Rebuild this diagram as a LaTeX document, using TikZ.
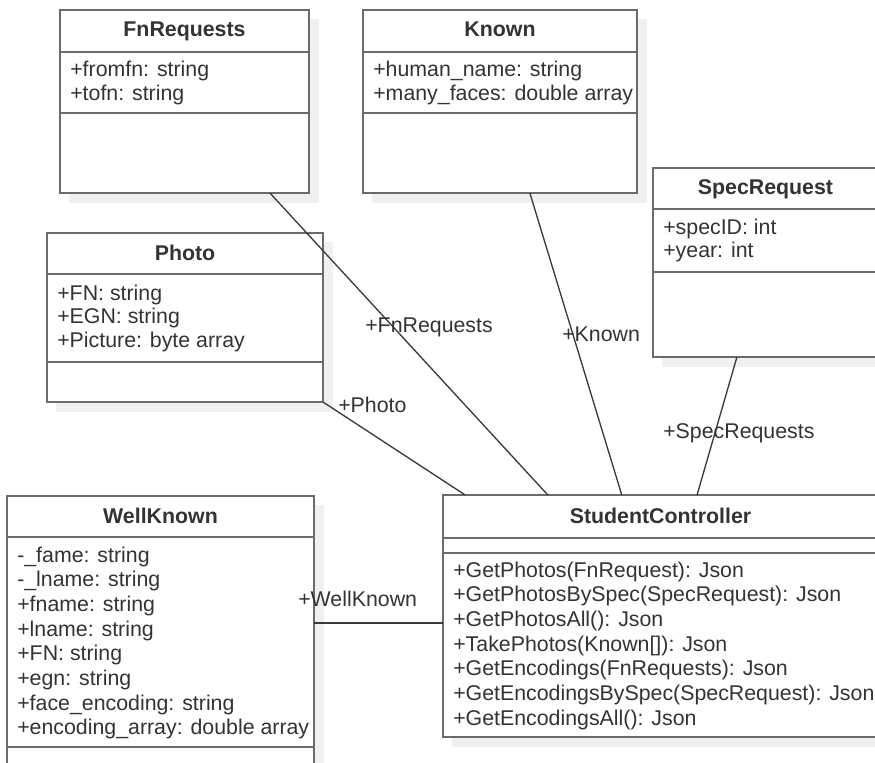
\documentclass[tikz,border=0pt]{standalone}
\usepackage{fontspec}
\setmainfont{Liberation Sans}
\usetikzlibrary{fit,calc}
\definecolor{boxline}{HTML}{6B6B6B}
\definecolor{inkgray}{HTML}{333333}
\definecolor{wireline}{HTML}{3A3A3A}
\definecolor{shadowgray}{HTML}{F0F0F0}
\begin{document}
\begin{tikzpicture}[x=0.75pt,y=-0.75pt,
  classbox/.style={draw=boxline, line width=1.6pt, fill=white, inner sep=0pt, outer sep=0pt, rectangle},
  boxshadow/.style={fill=shadowgray},
  divider/.style={draw=boxline, line width=1.6pt},
  classname/.style={font=\fontsize{16}{18}\selectfont\bfseries, text=inkgray, anchor=base, inner sep=0pt},
  member/.style={font=\fontsize{16}{18}\selectfont, text=inkgray, anchor=base west, inner sep=0pt},
  assoc/.style={draw=wireline, line width=1pt},
  rolelabel/.style={font=\fontsize{16}{18}\selectfont, text=inkgray, anchor=base west, inner sep=0pt},
]
\useasboundingbox (0,0) rectangle (875,763);
\clip (0,0) rectangle (875,763);

% drop shadows
\path[boxshadow] (69,19) rectangle (319,203);
\path[boxshadow] (372,19) rectangle (647,203);
\path[boxshadow] (662,177) rectangle (890,367);
\path[boxshadow] (56,242) rectangle (333,412);
\path[boxshadow] (16,505) rectangle (324,780);
\path[boxshadow] (452,504) rectangle (890,747);

% class frames
\node[classbox, fit={(60,10) (309,193)}] (fn) {};
\node[classbox, fit={(363,10) (637,193)}] (known) {};
\node[classbox, fit={(653,168) (878,357)}] (spec) {};
\node[classbox, fit={(47,233) (323,402)}] (photo) {};
\node[classbox, fit={(7,496) (314,770)}] (wk) {};
\node[classbox, fit={(443,495) (878,737)}] (sc) {};

% compartment dividers
\draw[divider] (60,52) -- (309,52) (60,113) -- (309,113);
\draw[divider] (363,52) -- (637,52) (363,113) -- (637,113);
\draw[divider] (653,209) -- (878,209) (653,272) -- (878,272);
\draw[divider] (47,274) -- (323,274) (47,362) -- (323,362);
\draw[divider] (7,537) -- (314,537) (7,747) -- (314,747);
\draw[divider] (443,538) -- (878,538) (443,553) -- (878,553);

% class names
\node[classname] (fn-name) at (184.5,37) {FnRequests};
\node[classname] (known-name) at (500,37) {Known};
\node[classname] (spec-name) at (765.5,195) {SpecRequest};
\node[classname] (photo-name) at (185,261) {Photo};
\node[classname] (wk-name) at (160.5,523) {WellKnown};
\node[classname] (sc-name) at (660.5,523) {StudentController};

% members
\foreach \m [count=\i from 0] in {{+fromfn: string},{+tofn: string}}
  \node[member] (fn-m\i) at (70,{77+24*\i}) {\m};
\foreach \m [count=\i from 0] in {{+human\_name: string},{+many\_faces: double array}}
  \node[member] (known-m\i) at (373,{77+24*\i}) {\m};
\foreach \m [count=\i from 0] in {{+specID: int},{+year: int}}
  \node[member] (spec-m\i) at (663,{234+23.5*\i}) {\m};
\foreach \m [count=\i from 0] in {{+FN: string},{+EGN: string},{+Picture: byte array}}
  \node[member] (photo-m\i) at (57,{300+23.5*\i}) {\m};
\foreach \m [count=\i from 0] in {{-\_fame: string},{-\_lname: string},{+fname: string},{+lname: string},{+FN: string},{+egn: string},{+face\_encoding: string},{+encoding\_array: double array}}
  \node[member] (wk-m\i) at (17,{562+24.7*\i}) {\m};
\foreach \m [count=\i from 0] in {{+GetPhotos(FnRequest): Json},{+GetPhotosBySpec(SpecRequest): Json},{+GetPhotosAll(): Json},{+TakePhotos(Known[]): Json},{+GetEncodings(FnRequests): Json},{+GetEncodingsBySpec(SpecRequest): Json},{+GetEncodingsAll(): Json}}
  \node[member] (sc-m\i) at (453,{577+24.7*\i}) {\m};

% associations
\draw[assoc] ($(fn.south west)!0.843!(fn.south east)$) -- ($(sc.north west)!0.241!(sc.north east)$);
\draw[assoc] ($(known.south west)!0.609!(known.south east)$) -- ($(sc.north west)!0.411!(sc.north east)$);
\draw[assoc] ($(spec.south west)!0.373!(spec.south east)$) -- ($(sc.north west)!0.584!(sc.north east)$);
\draw[assoc] (photo.south east) -- ($(sc.north west)!0.051!(sc.north east)$);
\coordinate (wk-port) at ($(wk.north east)!0.4635!(wk.south east)$);
\draw[assoc] (wk-port) -- (wk-port -| sc.west);

% role names
\node[rolelabel] (fn-role) at (365,332) {+FnRequests};
\node[rolelabel] (known-role) at (562,341) {+Known};
\node[rolelabel] (photo-role) at (338,412) {+Photo};
\node[rolelabel] (spec-role) at (663,438) {+SpecRequests};
\node[rolelabel] (wk-role) at (298,606) {+WellKnown};
\end{tikzpicture}
\end{document}
